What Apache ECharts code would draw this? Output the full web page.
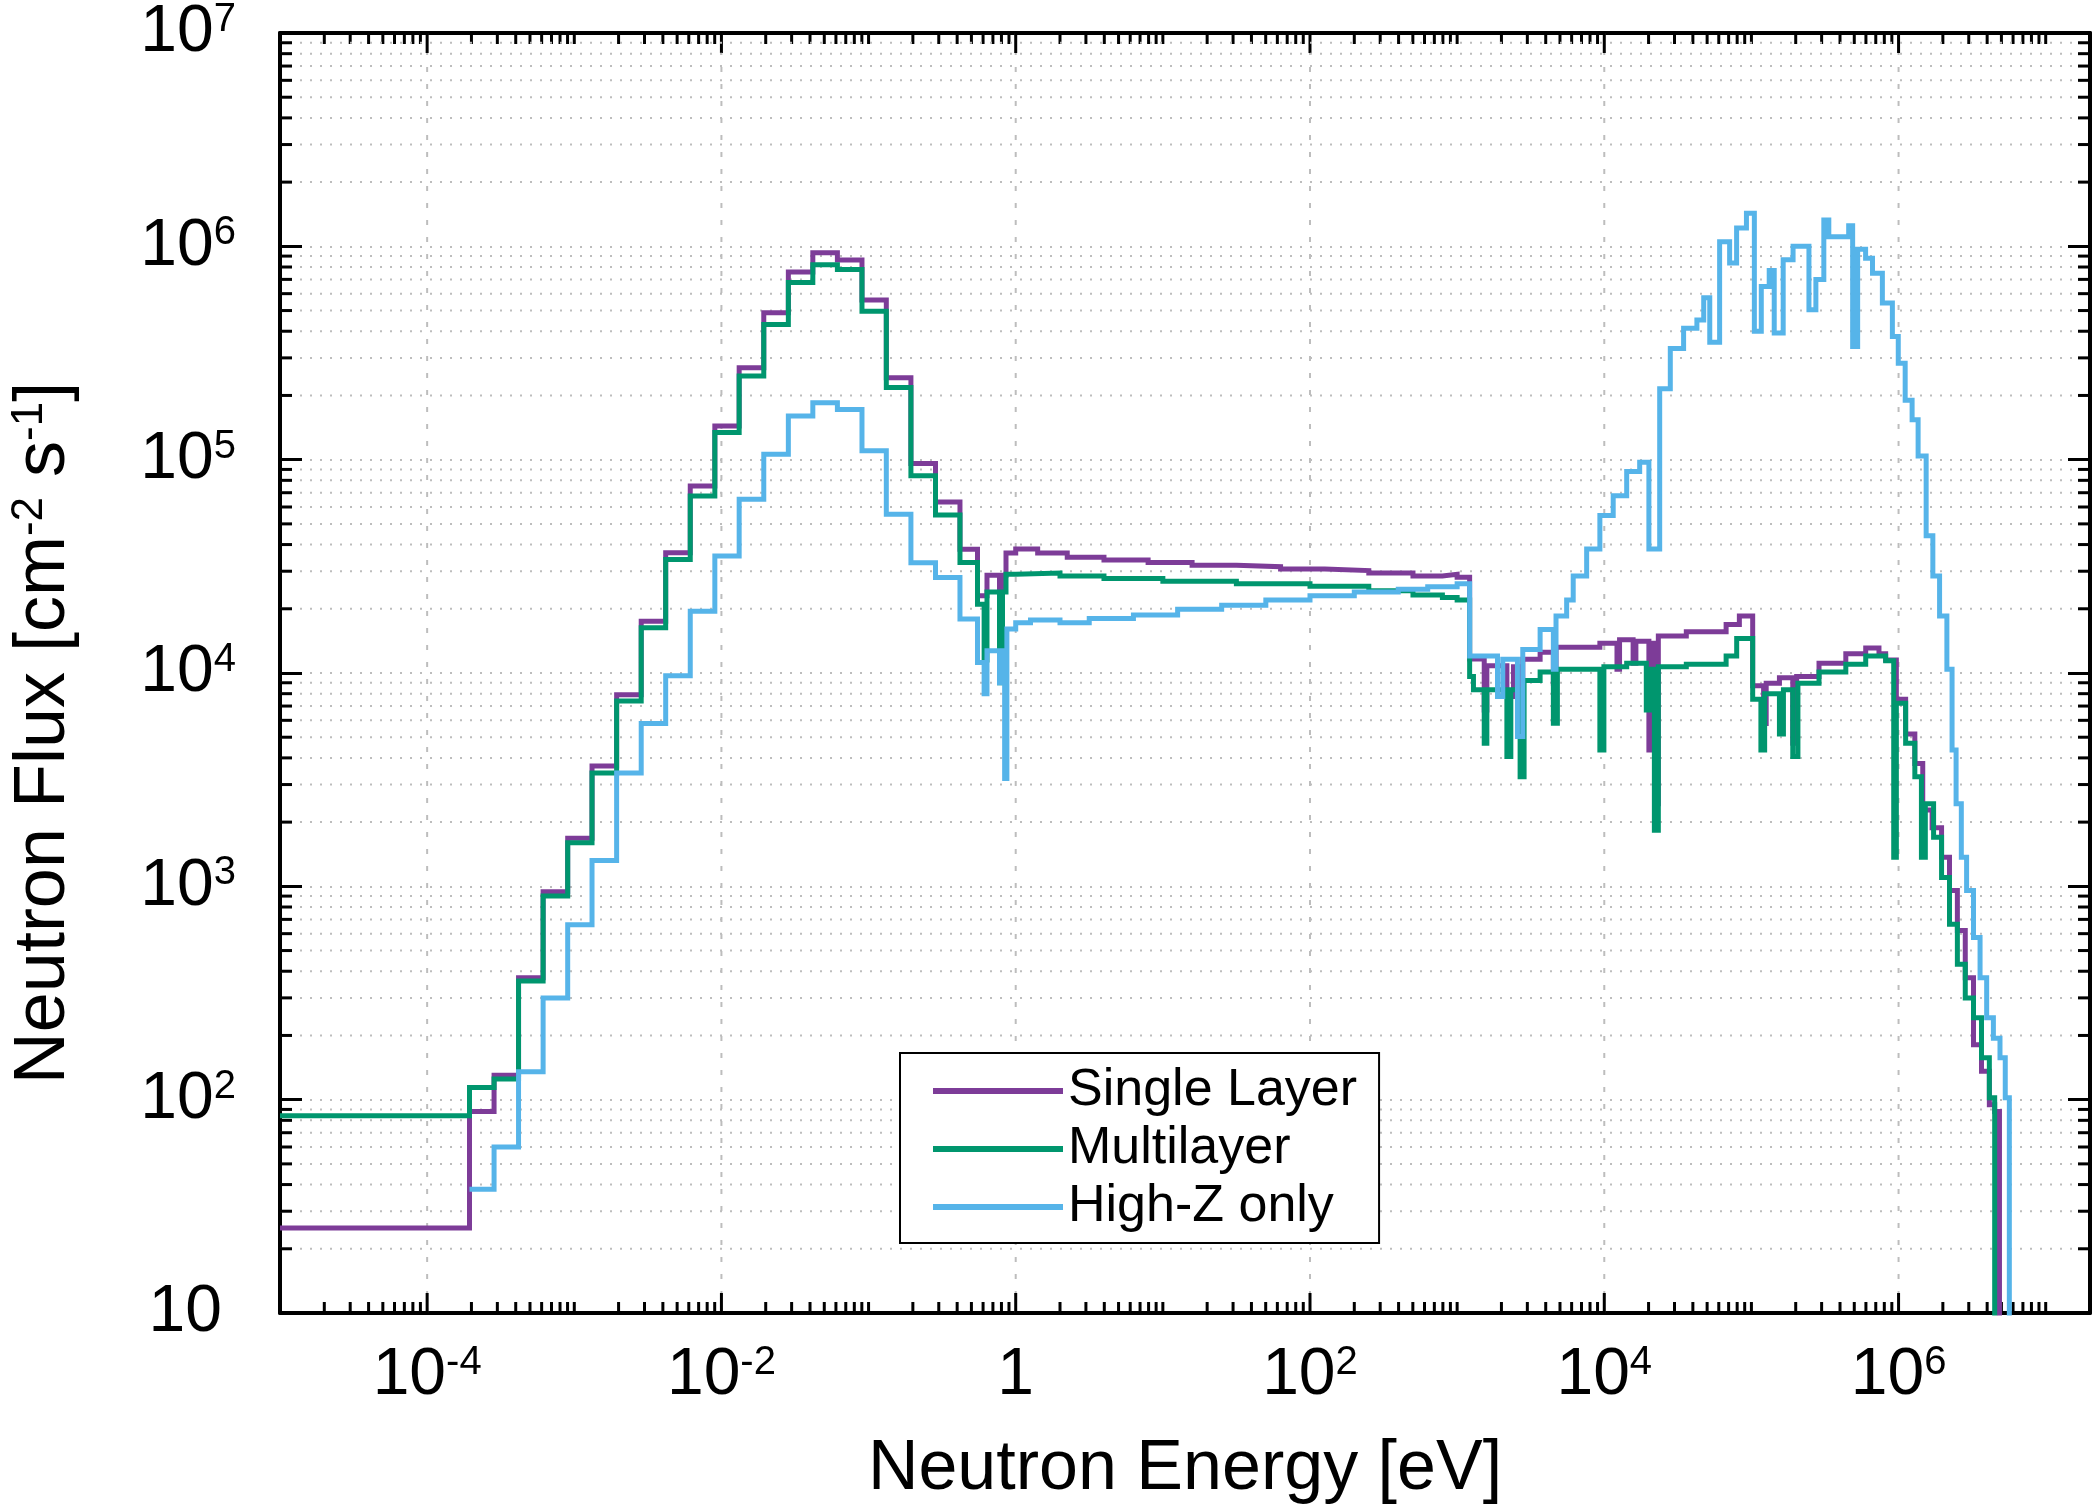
<!DOCTYPE html>
<html><head><meta charset="utf-8">
<script src="https://cdn.jsdelivr.net/npm/echarts@6/dist/echarts.min.js"></script>
<style>html,body{margin:0;padding:0;background:#fff}#c{width:2100px;height:1511px}</style>
</head><body><div id="c"></div>
<script>
// ---- data: E = lower bin edge [eV], F = flux [cm^-2 s^-1] ----
const seriesNames = ['Single Layer', 'Multilayer', 'High-Z only'];
const seriesColors = ['#7D3C98', '#00966E', '#56B4E9'];

const singleE = [1e-5,1.94e-4,2.85e-4,4.18e-4,6.14e-4,9.02e-4,1.32e-3,1.94e-3,2.85e-3,4.18e-3,6.14e-3,9.02e-3,1.32e-2,1.94e-2,2.85e-2,4.18e-2,6.14e-2,9.02e-2,0.132,0.194,0.285,0.418,
  0.55,0.638,0.776,0.813,0.859,
  1,1.41,2.24,3.98,7.94,15.8,31.6,63.1,126,251,501,794,1000,
  1216,1528,1592,2178,2415,2679,2793,3664,4508,4699,9333,12200,12700,15700,16400,20100,21000,22400,23300,36100,
  67300,82800,102000,121000,126000,155000,191000,203000,288000,438000,598000,736000,817000,966000,1.117e6,1.29e6,1.46e6,1.69e6,1.96e6,2.22e6,
  2.51e6,2.84e6,3.23e6,3.66e6,4.14e6,4.50e6,4.85e6];
const singleF = [25,88,130,373,942,1680,3660,7900,17500,36600,75200,144000,270000,488000,758000,934000,863000,560000,242000,96000,63400,38000,
  23000,28700,16000,28700,36500,
  38100,36500,34900,33900,33000,32000,31500,30700,30200,29400,28500,29000,28100,
  11640,6710,10800,7760,10700,5400,11600,12500,8960,13200,13800,10400,14300,11100,14100,4360,13800,2440,14900,15600,
  16900,18500,8710,5800,8960,9490,4690,9640,11100,12300,13100,12300,11500,7530,5180,3770,2280,1880,1370,955,
  620,373,181,136,94.6,88,1];

const multiE = [1e-5,1.94e-4,2.85e-4,4.18e-4,6.14e-4,9.02e-4,1.32e-3,1.94e-3,2.85e-3,4.18e-3,6.14e-3,9.02e-3,1.32e-2,1.94e-2,2.85e-2,4.18e-2,6.14e-2,9.02e-2,0.132,0.194,0.285,0.418,
  0.55,0.61,0.638,0.776,0.813,0.859,
  1,2,3.98,10,31.6,100,251,501,794,1000,
  1216,1291,1528,1592,2178,2317,2679,2851,3664,4508,4800,9333,9940,14200,19300,20600,21900,23300,36100,67300,
  79400,102000,116000,123000,155000,165000,191000,207000,288000,438000,598000,817000,927000,966000,1.117e6,1.29e6,1.43e6,1.52e6,1.73e6,1.96e6,
  2.22e6,2.51e6,2.84e6,3.23e6,3.66e6,4.14e6,4.50e6];
const multiF = [84,114,125,360,900,1600,3400,7400,16300,34000,67500,134000,247000,430000,676000,820000,778000,496000,218000,84000,55000,33000,
  21000,11500,24000,9000,24000,29000,
  29400,28500,27700,26900,26200,25500,24300,23200,22600,22000,
  9640,8340,4690,8340,4060,8340,3260,9230,10100,5810,10400,4360,10700,11100,6710,10400,1830,10700,11000,12000,
  14500,7530,4360,8000,5180,8340,4060,8960,10100,11000,12000,11400,1370,7210,4690,3260,1370,2440,1700,1100,
  665,431,300,242,157,102,1];

const highzE = [1.94e-4,2.85e-4,4.18e-4,6.14e-4,9.02e-4,1.32e-3,1.94e-3,2.85e-3,4.18e-3,6.14e-3,9.02e-3,1.32e-2,1.94e-2,2.85e-2,4.18e-2,6.14e-2,9.02e-2,0.132,0.194,0.285,0.418,
  0.55,0.61,0.638,0.776,0.813,0.841,0.871,
  1,1.26,2,3.16,6.31,12.6,25.1,50.1,100,200,398,631,1000,
  1216,1880,2042,2570,2793,3664,4508,4699,5550,6150,7590,9333,11500,14200,17400,20100,23800,28100,34600,42600,
  47400,52100,60800,71100,79300,92500,104700,116700,132100,142900,164400,191900,246000,274200,310500,335700,458100,487500,527200,597000,
  665300,776200,907800,995400,1.109e6,1.236e6,1.358e6,1.54e6,1.71e6,1.90e6,2.13e6,2.31e6,2.46e6,2.67e6,2.90e6,3.23e6,3.58e6,3.97e6,4.41e6,4.89e6,
  5.31e6,5.66e6];
const highzF = [38,60,135,300,660,1320,3400,5800,9700,19500,35400,65200,106000,160000,185000,172000,110000,55500,32900,28000,17900,
  11200,8000,12700,9000,12700,3200,16100,
  17200,17700,17200,18000,18700,19900,20800,22000,23000,24000,24700,25400,26200,
  12000,7760,11600,5040,12900,16000,10400,18500,22000,28500,38100,54700,67800,88100,97300,38100,215000,332000,413000,452000,
  574000,355000,1050000,835000,1220000,1430000,400000,648000,770000,392000,865000,1000000,504000,700000,1330000,1110000,1250000,339000,970000,880000,
  748000,542000,378000,283000,190000,154000,104000,44000,28500,18500,10400,4360,2440,1370,955,575,373,242,194,157,
  102,1];

const xLabelExponents = [-4, -2, 0, 2, 4, 6];
const xDecades = [-5,-4,-3,-2,-1,0,1,2,3,4,5,6,7];
const yDecades = [1,2,3,4,5,6];
const minorMultipliers = [2,3,4,5,6,7,8,9];
const xMinE = 1e-5, xMaxE = 2e7, yMinF = 10, yMaxF = 1e7;

// ---- build ----
const L = Math.log10;
function stepData(E, F) {
  const n = Math.min(E.length, F.length);
  const d = [];
  for (let i = 0; i < n; i++) d.push([L(E[i]), L(Math.max(F[i], 1e-3))]);
  d.push([L(xMaxE), d[n - 1][1]]);
  return d;
}
const xMin = L(xMinE), xMax = L(xMaxE), yMin = L(yMinF), yMax = L(yMaxF);

// tick/grid items: [value, kind] kind 0 = x minor, 1 = x major (labelled), 2 = y minor
const tickItems = [];
xDecades.forEach(d => {
  if (xLabelExponents.indexOf(d) >= 0) tickItems.push([d, 1]);
  else if (d > xMin && d < xMax) tickItems.push([d, 0]);
  minorMultipliers.forEach(m => { const v = d + L(m); if (v > xMin && v < xMax) tickItems.push([v, 0]); });
});
yDecades.forEach(d => minorMultipliers.forEach(m => tickItems.push([d + L(m), 2])));

const FONT = 'Liberation Sans, Arial, Helvetica, sans-serif';
const gridDot = '#bdbdbd';

function supLabel(e) {
  if (e === 0) return '{b|1}';
  if (e === 1) return '{b|10}{pad|}';
  return '{b|10}{s|' + e + '}';
}
const richLab = {
  b: { fontSize: 66, fontFamily: FONT, color: '#000', lineHeight: 66 },
  s: { fontSize: 40, fontFamily: FONT, color: '#000', verticalAlign: 'top', lineHeight: 40 },
  pad: { width: 14 }
};

const chart = echarts.init(document.getElementById('c'), null, { renderer: 'canvas' });

const lineSeries = [[singleE, singleF], [multiE, multiF], [highzE, highzF]].map((p, i) => ({
  name: seriesNames[i], type: 'line', step: 'end', showSymbol: false, symbol: 'none',
  data: stepData(p[0], p[1]), clip: true, z: 3 + i,
  lineStyle: { color: seriesColors[i], width: 5, join: 'miter' },
  itemStyle: { color: seriesColors[i] }, emphasis: { disabled: true }, animation: false
}));

const ticksSeries = {
  name: 'ticks', type: 'custom', coordinateSystem: 'cartesian2d', xAxisIndex: 0, yAxisIndex: 0,
  data: tickItems.map(t => [t[0], 4, t[1]]), encode: { x: 0, y: 1 }, z: 1, silent: true, animation: false,
  renderItem: function (params, api) {
    const cs = params.coordSys;
    const v = api.value(0), k = api.value(2);
    const blk = { stroke: '#000', lineWidth: 3 };
    if (k === 2) {
      const py = api.coord([xMin, v])[1];
      return { type: 'group', children: [
        { type: 'line', shape: { x1: cs.x, y1: py, x2: cs.x + cs.width, y2: py }, style: { stroke: gridDot, lineWidth: 2, lineDash: [2, 8] } },
        { type: 'line', shape: { x1: cs.x, y1: py, x2: cs.x + 12, y2: py }, style: blk },
        { type: 'line', shape: { x1: cs.x + cs.width - 12, y1: py, x2: cs.x + cs.width, y2: py }, style: blk }
      ]};
    }
    const px = api.coord([v, yMin])[0];
    const len = k === 1 ? 20 : 11;
    const ch = [
      { type: 'line', shape: { x1: px, y1: cs.y + cs.height, x2: px, y2: cs.y + cs.height - len }, style: blk },
      { type: 'line', shape: { x1: px, y1: cs.y, x2: px, y2: cs.y + len }, style: blk }
    ];
    if (k === 1) ch.unshift({ type: 'line', shape: { x1: px, y1: cs.y, x2: px, y2: cs.y + cs.height }, style: { stroke: gridDot, lineWidth: 2, lineDash: [5, 12] } });
    return { type: 'group', children: ch };
  }
};

const axisCommon = {
  type: 'value', axisLine: { show: true, onZero: false, lineStyle: { color: '#000', width: 4 } }
};

chart.setOption({
  animation: false,
  backgroundColor: '#fff',
  grid: { left: 272, right: 10, top: 33, bottom: 198, containLabel: false },
  legend: {
    data: seriesNames, orient: 'vertical', left: 900, top: 1053,
    icon: 'rect', itemWidth: 130, itemHeight: 6, itemGap: 6, itemTextGap: 20,
    padding: [12, 22, 10, 33], borderColor: '#000', borderWidth: 2, backgroundColor: '#fff',
    textStyle: { fontSize: 52, fontFamily: FONT, color: '#000', lineHeight: 50 },
    selectedMode: false
  },
  xAxis: [
    Object.assign({}, axisCommon, {
      min: xMin, max: xMax, interval: 1, position: 'bottom',
      axisTick: { show: false }, splitLine: { show: false },
      axisLabel: {
        margin: 30, showMaxLabel: false, showMinLabel: false,
        formatter: v => (xLabelExponents.indexOf(Math.round(v)) >= 0 && Math.abs(v - Math.round(v)) < 1e-6) ? supLabel(Math.round(v)) : '',
        rich: richLab
      },
      name: 'Neutron Energy [eV]', nameLocation: 'middle', nameGap: 122,
      nameTextStyle: { fontSize: 70, fontFamily: FONT, color: '#000' }
    }),
    Object.assign({}, axisCommon, {
      min: xMin, max: xMax, interval: 1, position: 'top',
      axisTick: { show: false }, splitLine: { show: false }, axisLabel: { show: false }
    })
  ],
  yAxis: [
    Object.assign({}, axisCommon, {
      min: yMin, max: yMax, interval: 1, position: 'left',
      axisTick: { show: true, inside: true, length: 22, lineStyle: { color: '#000', width: 3 } },
      splitLine: { show: true, lineStyle: { color: gridDot, width: 2, type: [2, 8] } },
      axisLabel: { margin: 44, formatter: v => supLabel(Math.round(v)), rich: richLab },
      name: 'Neutron Flux [cm{s|-2} s{s|-1}]', nameLocation: 'middle', nameGap: 200,
      nameTextStyle: { fontSize: 72, fontFamily: FONT, color: '#000', padding: [0, 120, 0, 0],
        rich: { s: { fontSize: 44, fontFamily: FONT, color: '#000', verticalAlign: 'top', lineHeight: 44 } } }
    }),
    Object.assign({}, axisCommon, {
      min: yMin, max: yMax, interval: 1, position: 'right',
      axisTick: { show: true, inside: true, length: 22, lineStyle: { color: '#000', width: 3 } },
      splitLine: { show: false }, axisLabel: { show: false }
    })
  ],
  series: [ticksSeries].concat(lineSeries)
});
</script>
</body></html>
